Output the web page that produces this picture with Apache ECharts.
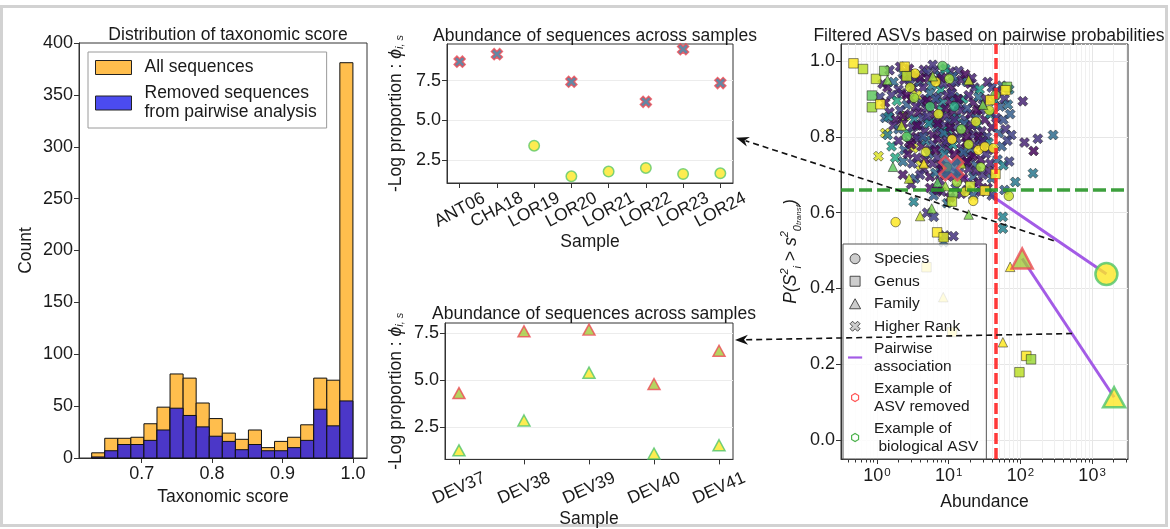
<!DOCTYPE html>
<html><head><meta charset="utf-8">
<script src="https://cdn.jsdelivr.net/npm/echarts@6/dist/echarts.min.js"></script>
<style>html,body{margin:0;padding:0;background:#fff}#c{width:1170px;height:529px}</style>
</head><body><div id="c"></div>
<script>
// ---------------- Histogram (left) ----------------
const binStart = 0.629;
const binWidth = 0.01855;
const allCounts     = [5,19,19,20,33,49,81,77,53,38,24,18,27,10,16,20,32,77,75,381];
const removedCounts = [1,7,13,13,17,27,48,41,30,21,16,8,13,7,7,10,17,47,31,55];
const histTicks = [0.7,0.8,0.9,1.0];

// ---------------- Top middle ----------------
const samplesA = ['ANT06','CHA18','LOR19','LOR20','LOR21','LOR22','LOR23','LOR24'];
const removedA = [8.69,9.16,null,7.42,null,6.16,9.47,7.34];
const bioA     = [null,null,3.40,1.47,1.77,2.00,1.62,1.66];
const ticksA   = [2.5,5.0,7.5];

// ---------------- Bottom middle ----------------
const samplesB = ['DEV37','DEV38','DEV39','DEV40','DEV41'];
const removedB = [4.31,7.58,7.67,4.79,6.55];
const bioB     = [1.28,2.86,5.39,1.11,1.55];
const ticksB   = [2.5,5.0,7.5];

// ---------------- Right scatter: [abundance, probability, colour value] ----------------
const higherRank = [
[1.5,0.976,0.15],[2.1,0.985,0.1],[2.3,0.968,0.3],[2.8,0.98,0.05],[3.4,0.965,0.45],[4.5,0.977,0.1],[5.0,0.97,0.2],[6.5,0.975,0.15],[7.5,0.962,0.3],[10.6,0.972,0.1],[13.8,0.974,0.15],[9,0.98,0.55],
[1.2,0.94,0.1],[1.4,0.93,0.05],[1.7,0.945,0.35],[2.0,0.925,0.15],[2.4,0.95,0.1],[2.9,0.94,0.2],[3.2,0.93,0.05],[3.9,0.945,0.3],[4.4,0.93,0.1],[5.2,0.955,0.05],[5.8,0.935,0.4],[6.8,0.95,0.1],[7.8,0.925,0.55],[8.5,0.94,0.15],[11,0.93,0.05],[12.5,0.945,0.2],[15,0.95,0.1],[18,0.945,0.3],[20,0.94,0.05],[23,0.93,0.15],[27,0.925,0.55],[35,0.945,0.1],[40,0.93,0.2],[55,0.935,0.3],[70,0.925,0.4],[48,0.92,0.1],
[1.1,0.905,0.2],[1.3,0.89,0.05],[1.6,0.91,0.15],[1.9,0.895,0.6],[2.2,0.915,0.1],[2.6,0.885,0.3],[3.0,0.9,0.05],[3.6,0.91,0.95],[4.1,0.89,0.2],[4.7,0.9,0.1],[5.5,0.915,0.35],[6.2,0.885,0.05],[7.1,0.905,0.2],[8.2,0.89,0.45],[9.5,0.91,0.1],[10.5,0.895,0.05],[12,0.905,0.3],[14,0.885,0.15],[16,0.9,0.55],[19,0.91,0.1],[22,0.89,0.05],[26,0.905,0.35],[30,0.885,0.2],[33,0.9,0.1],[44,0.895,0.45],[52,0.88,0.3],[60,0.9,0.15],[67,0.885,0.35],[108,0.894,0.1],
[1.3,0.85,0.3],[1.5,0.865,0.1],[1.8,0.845,0.05],[2.1,0.87,0.2],[2.5,0.855,0.85],[2.9,0.86,0.1],[3.3,0.845,0.45],[3.8,0.865,0.05],[4.3,0.85,0.2],[4.9,0.875,0.1],[5.6,0.84,0.3],[6.4,0.86,0.05],[7.3,0.845,0.15],[8.0,0.87,0.6],[9.2,0.855,0.1],[10.2,0.84,0.25],[11.5,0.865,0.05],[13,0.85,0.4],[15,0.87,0.1],[17,0.845,0.2],[20,0.86,0.05],[24,0.85,0.3],[28,0.87,0.15],[32,0.845,0.05],[38,0.86,0.5],[46,0.85,0.1],[58,0.845,0.25],[72,0.86,0.3],[1.45,0.853,0.45],
[1.3,0.81,0.95],[1.41,0.805,0.4],[1.7,0.83,0.1],[2.0,0.82,0.3],[2.3,0.835,0.05],[2.7,0.81,0.6],[3.1,0.825,0.15],[3.5,0.8,0.05],[4.0,0.83,0.2],[4.6,0.815,0.1],[5.3,0.835,0.45],[6.0,0.805,0.05],[6.8,0.825,0.3],[7.7,0.81,0.1],[8.8,0.83,0.15],[9.8,0.815,0.55],[11,0.8,0.05],[12.5,0.825,0.2],[14.5,0.81,0.1],[16.5,0.835,0.3],[19,0.82,0.05],[22,0.805,0.15],[25,0.83,0.45],[29,0.815,0.1],[34,0.8,0.2],[40,0.825,0.05],[50,0.81,0.3],[62,0.82,0.15],[75,0.805,0.2],[114,0.785,0.1],[175,0.795,0.15],[286,0.805,0.35],
[1.6,0.775,0.55],[2.0,0.79,0.1],[2.4,0.765,0.3],[2.8,0.785,0.05],[3.2,0.77,0.95],[3.7,0.795,0.15],[4.2,0.775,0.05],[4.8,0.79,0.4],[5.4,0.765,0.1],[6.1,0.78,0.2],[7.0,0.795,0.05],[7.9,0.77,0.3],[8.9,0.785,0.1],[10,0.765,0.05],[11.5,0.78,0.5],[13,0.795,0.15],[15,0.77,0.1],[17.5,0.785,0.05],[20,0.765,0.3],[23,0.78,0.1],[27,0.79,0.2],[31,0.77,0.05],[36,0.785,0.45],[42,0.765,0.1],[55,0.775,0.3],[66,0.79,0.2],[153,0.763,0.02],
[1.05,0.749,0.95],[1.8,0.745,0.6],[2.3,0.735,0.35],[2.7,0.755,0.05],[3.1,0.73,0.2],[3.6,0.745,0.1],[4.1,0.725,0.95],[4.7,0.74,0.05],[5.3,0.755,0.3],[6.0,0.73,0.1],[6.9,0.745,0.15],[7.8,0.725,0.05],[8.7,0.755,0.4],[13,0.735,0.1],[15,0.75,0.05],[17.5,0.73,0.2],[20,0.745,0.1],[24,0.725,0.3],[28,0.74,0.05],[33,0.755,0.15],[38,0.73,0.1],[48,0.74,0.3],[58,0.725,0.45],[70,0.735,0.2],
[2.3,0.7,0.05],[3.4,0.69,0.3],[4.5,0.715,0.1],[5.5,0.695,0.05],[6.5,0.705,0.35],[7.5,0.685,0.1],[9,0.7,0.05],[14,0.705,0.2],[16,0.69,0.05],[19,0.715,0.1],[22,0.695,0.3],[26,0.68,0.05],[30,0.7,0.15],[36,0.71,0.1],[40,0.69,0.3],[150,0.704,0.4],[85,0.681,0.4],[3.0,0.675,0.1],
[3.25,0.629,0.45],[5.5,0.665,0.05],[6.2,0.645,0.3],[8,0.655,0.1],[9.5,0.625,0.35],[10.5,0.64,0.05],[12.5,0.665,0.2],[15,0.65,0.1],[18,0.66,0.05],[22,0.645,0.3],[28,0.655,0.1],[35,0.665,0.05],[40,0.645,0.2],[60,0.66,0.3],[5,0.6,0.15],
[6.2,0.589,0.2],[8.5,0.522,0.35],[8.8,0.54,0.15],[11.7,0.538,0.15],[57,0.589,0.45],[57,0.558,0.45],
[3.0,0.96,0.1],[4.0,0.955,0.02],[6.0,0.99,0.15],[8.0,0.955,0.05],[11.5,0.96,0.3],[17,0.965,0.02],[21,0.955,0.1],[2.6,0.91,0.02],[3.5,0.88,0.1],[5.0,0.895,0.02],[6.6,0.9,0.25],[9,0.875,0.02],[11,0.915,0.15],[13.5,0.9,0.02],[18,0.875,0.25],[25,0.87,0.02],[2.3,0.855,0.02],[3.6,0.83,0.02],[5.0,0.855,0.15],[7.0,0.835,0.02],[8.5,0.81,0.35],[10.5,0.825,0.02],[12,0.845,0.1],[18,0.8,0.02],[21,0.83,0.1],[26,0.8,0.02],[3.0,0.78,0.02],[4.4,0.8,0.25],[6.5,0.765,0.02],[9.5,0.79,0.15],[12,0.755,0.02],[16,0.76,0.3],[22,0.75,0.02],[30,0.79,0.1],[4.0,0.7,0.15],[8,0.715,0.02],[11.5,0.695,0.1],[18,0.735,0.02],[24,0.71,0.1],[7,0.66,0.02]
];
const species = [
[1.82,0.575,1.0],[22,0.631,1.0],[69,0.644,0.92],[8.2,0.987,0.75],[3.4,0.967,1.0],[6.6,0.945,1.0],[10.2,0.953,0.85],[3.3,0.903,0.85],[11.1,0.793,1.0],[26,0.765,1.0],[32,0.774,1.0],[42,0.77,1.0],[28,0.72,0.85],[5.5,0.88,0.7],[7.2,0.86,0.95],[15,0.82,0.8],[19,0.78,0.9],[4.8,0.76,0.95],[9.5,0.72,0.9],[2.6,0.8,0.75],[13,0.68,0.85],[17,0.655,0.95],[37,0.87,0.9],[45,0.91,0.8],[2.9,0.93,0.92],[12,0.88,0.6],[24,0.84,0.95]
];
const genus = [
[0.47,0.994,1.0],[0.64,0.979,0.9],[0.97,0.953,0.92],[1.26,0.974,0.8],[0.85,0.909,0.75],[0.85,0.878,0.85],[1.11,0.886,1.0],[2.43,0.985,1.0],[2.6,0.96,0.9],[6.9,0.548,1.0],[8.5,0.535,0.95],[11.5,0.651,0.8],[11.1,0.629,0.9],[65,0.932,0.8],[62,0.923,1.0],[38,0.897,1.0],[45,0.702,1.0],[32,0.658,1.0],[121,0.222,1.0],[141,0.213,0.85],[97,0.179,0.9],[4.9,0.456,1.0],[11.2,0.285,1.0],[20,0.67,0.92]
];
const family = [
[72,0.457,1.0],[57,0.258,1.0],[4.0,0.591,0.92],[5.8,0.611,0.8],[19,0.595,0.8],[1.67,0.721,0.75],[4.5,0.73,1.0],[1.4,0.95,0.8],[6,0.96,0.85],[19,0.95,0.92],[2.2,0.83,0.9],[30,0.885,0.8],[9,0.67,0.85],[15,0.73,0.9],[7,0.68,0.75],[2.8,0.69,0.9],[8.4,0.377,1.0]
];
const removedExample = [[10.9,0.717,'X'],[106,0.479,'T']];
const bioExample     = [[1585,0.438,'C'],[2029,0.113,'T']];
const pairA = [[10.9,0.717],[1585,0.438]];
const pairB = [[106,0.479],[2029,0.113]];
const abundanceThreshold = 45.3;
const probThreshold = 0.664;
const probTicks = [0,0.2,0.4,0.6,0.8,1.0];
const logMajor = [1,10,100,1000];
const logMinor = [0.4,0.5,0.6,0.7,0.8,0.9,2,3,4,5,6,7,8,9,20,30,40,50,60,70,80,90,200,300,400,500,600,700,800,900,2000,3000];
// arrows (from right-panel data point to middle-panel right edge)
const arrow1 = {from:[292,0.526], to:[7.34,3.9]};
const arrow2 = {from:[527,0.281], to:[4.215,7.12]};

// ---------------- styling ----------------
const FF = 'Liberation Sans, Arial, Helvetica, sans-serif';
const TXT = '#1a1a1a';
const AX = '#333';
const X_PATH = 'path://M0,2.5 L2.5,0 L5,2.5 L7.5,0 L10,2.5 L7.5,5 L10,7.5 L7.5,10 L5,7.5 L2.5,10 L0,7.5 L2.5,5 Z';
const HEX = 'path://M-5.6,-5.6 M0,-4.5 L3.9,-2.25 L3.9,2.25 L0,4.5 L-3.9,2.25 L-3.9,-2.25 Z M5.6,5.6';
const viridis = ['#440154','#482878','#3e4989','#31688e','#26828e','#1f9e89','#35b779','#6ece58','#b5de2b','#fde725'];

const histData = (counts) => counts.map((c, i) => [binStart + i*binWidth, binStart + (i+1)*binWidth, c]);
const renderBar = (params, api) => {
  const p0 = api.coord([api.value(0), api.value(2)]);
  const p1 = api.coord([api.value(1), 0]);
  return {type:'rect', shape:{x:p0[0], y:p0[1], width:p1[0]-p0[0], height:p1[1]-p0[1]},
          style: api.style({stroke:'#111', lineWidth:1})};
};

const tickStyle = {show:true, inside:false, length:5, lineStyle:{color:AX, width:1}};
const labelStyle = {fontSize:18, color:TXT, fontFamily:FF};
const nameStyle = {fontSize:17.5, color:TXT, fontFamily:FF};
const catLabel = (names, idx, rot, margin) => ({
  ...labelStyle, fontSize:17.5, rotate:rot, align:'center', verticalAlign:'middle', margin:margin,
  hideOverlap:false, customValues: idx, formatter: v => names[Math.round(v)]
});
const idxA = samplesA.map((n,i)=>i);
const idxAEven = idxA.filter(i => i % 2 === 0);
const idxAOdd  = idxA.filter(i => i % 2 === 1);
const idxB = samplesB.map((n,i)=>i);
const phiName = '-Log proportion : {phi|ϕ}{sub|i, s}';
const phiRich = {phi:{fontSize:17.5, fontStyle:'italic', fontFamily:FF, color:TXT}, sub:{fontSize:11, fontStyle:'italic', verticalAlign:'bottom', fontFamily:FF, color:TXT}};
const noZero = {onZero:false, lineStyle:{color:AX}};

const chart = echarts.init(document.getElementById('c'), null, {renderer:'canvas'});
const option = {
  animation:false,
  backgroundColor:'#fff',
  title:[
    {text:'Distribution of taxonomic score', left:223, top:21, textAlign:'center', textStyle:{...nameStyle, fontWeight:'normal'}},
    {text:'Abundance of sequences across samples', left:590, top:22, textAlign:'center', textStyle:{...nameStyle, fontWeight:'normal'}},
    {text:'Abundance of sequences across samples', left:589, top:300, textAlign:'center', textStyle:{...nameStyle, fontWeight:'normal'}},
    {text:'Filtered ASVs based on pairwise probabilities', left:984, top:22, textAlign:'center', textStyle:{...nameStyle, fontWeight:'normal'}}
  ],
  grid:[
    {left:79, top:43, width:288, height:415, show:true, borderColor:AX, borderWidth:1, backgroundColor:'transparent'},
    {left:447, top:44, width:286, height:139, show:true, borderColor:AX, borderWidth:1, backgroundColor:'transparent'},
    {left:445, top:323, width:288, height:140, show:true, borderColor:AX, borderWidth:1, backgroundColor:'transparent'},
    {left:841, top:44, width:287, height:415, show:true, borderColor:AX, borderWidth:1, backgroundColor:'transparent'}
  ],
  xAxis:[
    {gridIndex:0, type:'value', min:0.611, max:1.02,
     axisLine:noZero, axisTick:{...tickStyle, customValues:histTicks},
     axisLabel:{...labelStyle, margin:7, customValues:histTicks, formatter:v=>v.toFixed(1)},
     splitLine:{show:false}, name:'Taxonomic score', nameLocation:'middle', nameGap:30, nameTextStyle:nameStyle},
    {gridIndex:1, type:'value', min:-0.34, max:7.34,
     axisLine:noZero, axisTick:{...tickStyle, customValues:idxA},
     axisLabel:catLabel(samplesA, idxAEven, 28, 27), splitLine:{show:false},
     name:'Sample', nameLocation:'middle', nameGap:49, nameTextStyle:nameStyle},
    {gridIndex:2, type:'value', min:-0.215, max:4.215,
     axisLine:noZero, axisTick:{...tickStyle, customValues:idxB},
     axisLabel:catLabel(samplesB, idxB, 24, 29), splitLine:{show:false},
     name:'Sample', nameLocation:'middle', nameGap:50, nameTextStyle:nameStyle},
    {gridIndex:3, type:'log', logBase:10, min:0.315, max:3170,
     axisLine:noZero, axisTick:{...tickStyle, length:5, customValues:logMajor},
     axisLabel:{...labelStyle, margin:8, customValues:logMajor,
       formatter:v=>'10{sup|'+Math.round(Math.log10(v))+'}',
       rich:{sup:{fontSize:11.5, verticalAlign:'top', color:TXT, fontFamily:FF, padding:[0,0,0,1]}}},
     splitLine:{show:true, lineStyle:{color:'#e6e6e6', width:1}},
     name:'Abundance', nameLocation:'middle', nameGap:34, nameTextStyle:nameStyle},
    {gridIndex:3, type:'log', logBase:10, min:0.315, max:3170, position:'bottom',
     axisLine:{show:false, onZero:false}, axisTick:{...tickStyle, length:3.5, customValues:logMinor},
     axisLabel:{show:false, customValues:logMinor},
     splitLine:{show:true, lineStyle:{color:'#f0f0f0', width:1}}},
    {gridIndex:1, type:'value', min:-0.34, max:7.34, position:'bottom',
     axisLine:{show:false, onZero:false}, axisTick:{show:false},
     axisLabel:catLabel(samplesA, idxAOdd, 28, 27), splitLine:{show:false}}
  ],
  yAxis:[
    {gridIndex:0, type:'value', min:0, max:400, interval:50,
     axisLine:{show:true, onZero:false, lineStyle:{color:AX}}, axisTick:tickStyle,
     axisLabel:{...labelStyle, margin:6}, splitLine:{show:false},
     name:'Count', nameLocation:'middle', nameGap:44, nameTextStyle:nameStyle},
    {gridIndex:1, type:'value', min:1.05, max:9.8,
     axisLine:{show:true, onZero:false, lineStyle:{color:AX}}, axisTick:{...tickStyle, customValues:ticksA},
     axisLabel:{...labelStyle, margin:6, customValues:ticksA, formatter:v=>v.toFixed(1)},
     splitLine:{show:true, lineStyle:{color:'#ececec'}},
     name:phiName, nameLocation:'middle', nameGap:42, nameTextStyle:{...nameStyle, rich:phiRich}},
    {gridIndex:2, type:'value', min:0.8, max:8.02,
     axisLine:{show:true, onZero:false, lineStyle:{color:AX}}, axisTick:{...tickStyle, customValues:ticksB},
     axisLabel:{...labelStyle, margin:6, customValues:ticksB, formatter:v=>v.toFixed(1)},
     splitLine:{show:true, lineStyle:{color:'#ececec'}},
     name:phiName, nameLocation:'middle', nameGap:40, nameTextStyle:{...nameStyle, rich:phiRich}},
    {gridIndex:3, type:'value', min:-0.05, max:1.045,
     axisLine:{show:true, onZero:false, lineStyle:{color:AX}}, axisTick:{...tickStyle, customValues:probTicks},
     axisLabel:{...labelStyle, margin:6, customValues:probTicks, formatter:v=>v.toFixed(1)},
     splitLine:{show:true, lineStyle:{color:'#e6e6e6'}},
     name:'{it|P}(S{sup|2}{sub|i} > s{sup|2}{sub|0}{sub2|transf})', nameLocation:'middle', nameGap:38,
     nameTextStyle:{...nameStyle, fontStyle:'italic', lineHeight:24, rich:{
       it:{fontSize:17.5, fontStyle:'italic', fontFamily:FF, color:TXT},
       sup:{fontSize:11, fontStyle:'italic', verticalAlign:'top', fontFamily:FF, color:TXT},
       sub:{fontSize:11, fontStyle:'italic', verticalAlign:'bottom', fontFamily:FF, color:TXT},
       sub2:{fontSize:8, fontStyle:'italic', verticalAlign:'bottom', fontFamily:FF, color:TXT}}}}
  ],
  visualMap:[{type:'continuous', show:false, min:0, max:1, dimension:2, seriesIndex:[8,9,10,11], inRange:{color:viridis}}],
  legend:[
    {orient:'vertical', left:88, top:52, itemWidth:36, itemHeight:14, itemGap:7, selectedMode:false,
     padding:[6,10,6,7], borderColor:'#9a9a9a', borderWidth:1, backgroundColor:'#fff',
     textStyle:{fontSize:17.5, fontFamily:FF, color:TXT, lineHeight:19, padding:[0,0,0,8]},
     data:[{name:'All sequences', icon:'rect', itemStyle:{color:'#FFBE4D', borderColor:'#222', borderWidth:1}},
           {name:'Removed sequences\nfrom pairwise analysis', icon:'rect', itemStyle:{color:'#4B4BF0', borderColor:'#222', borderWidth:1}}]},
    {orient:'vertical', left:843, top:244, itemWidth:20, itemHeight:10, itemGap:5, selectedMode:false,
     padding:[6,8,4,5], borderColor:'#555', borderWidth:1, backgroundColor:'rgba(255,255,255,0.82)',
     textStyle:{fontSize:15.5, fontFamily:FF, color:TXT, lineHeight:17.5, padding:[0,0,0,4]},
     data:[
       {name:'Species', icon:'circle', itemStyle:{color:'#c4c4c4', borderColor:'#333', borderWidth:1}},
       {name:'Genus', icon:'path://M0,0 L10,0 L10,10 L0,10 Z', itemStyle:{color:'#c4c4c4', borderColor:'#333', borderWidth:1}},
       {name:'Family', icon:'path://M5,0 L10,9 L0,9 Z', itemStyle:{color:'#c4c4c4', borderColor:'#333', borderWidth:1}},
       {name:'Higher Rank', icon:X_PATH, itemStyle:{color:'#c4c4c4', borderColor:'#333', borderWidth:1}},
       {name:'Pairwise\nassociation', icon:'path://M0,-6 M0,-1.3 L17,-1.3 L17,1.3 L0,1.3 Z M0,6',
        itemStyle:{color:'#A35BE6', borderColor:'#A35BE6', borderWidth:0}, lineStyle:{color:'#A35BE6', width:2.5}},
       {name:'Example of\nASV removed', icon:HEX, itemStyle:{color:'rgba(0,0,0,0)', borderColor:'#ff2a2a', borderWidth:1.2}},
       {name:'Example of\n biological ASV', icon:HEX, itemStyle:{color:'rgba(0,0,0,0)', borderColor:'#1e9e1e', borderWidth:1.2}}
     ]}
  ],
  series:[
    {name:'All sequences', type:'custom', xAxisIndex:0, yAxisIndex:0, renderItem:renderBar, encode:{x:[0,1], y:2},
     itemStyle:{color:'#FFBE4D'}, data:histData(allCounts)},
    {name:'Removed sequences\nfrom pairwise analysis', type:'custom', xAxisIndex:0, yAxisIndex:0, renderItem:renderBar, encode:{x:[0,1], y:2},
     itemStyle:{color:'#4B37C8'}, data:histData(removedCounts)},
    {name:'topRemoved', type:'scatter', xAxisIndex:1, yAxisIndex:1, symbol:X_PATH, symbolSize:11,
     itemStyle:{color:'#3C6A8E', borderColor:'#EC4B55', borderWidth:1.5},
     data:removedA.map((v,i)=>[i,v]).filter(d=>d[1]!==null)},
    {name:'topBio', type:'scatter', xAxisIndex:1, yAxisIndex:1, symbol:'circle', symbolSize:10.5,
     itemStyle:{color:'#FDE725', borderColor:'#5CC86A', borderWidth:1.5},
     data:bioA.map((v,i)=>[i,v]).filter(d=>d[1]!==null)},
    {name:'bottomRemoved', type:'scatter', xAxisIndex:2, yAxisIndex:2, symbol:'triangle', symbolSize:[12,11],
     itemStyle:{color:'#A3C93A', borderColor:'#EC4B55', borderWidth:1.5},
     data:removedB.map((v,i)=>[i,v])},
    {name:'bottomBio', type:'scatter', xAxisIndex:2, yAxisIndex:2, symbol:'triangle', symbolSize:[12,11],
     itemStyle:{color:'#FDE725', borderColor:'#4FC46A', borderWidth:1.5},
     data:bioB.map((v,i)=>[i,v])},
    {name:'Pairwise\nassociation', type:'line', xAxisIndex:3, yAxisIndex:3, symbol:'none', z:1,
     itemStyle:{color:'#A35BE6'}, lineStyle:{color:'#A35BE6', width:3}, data:pairA},
    {name:'Pairwise\nassociation', type:'line', xAxisIndex:3, yAxisIndex:3, symbol:'none', z:1,
     itemStyle:{color:'#A35BE6'}, lineStyle:{color:'#A35BE6', width:3}, data:pairB},
    {name:'Higher Rank', type:'scatter', xAxisIndex:3, yAxisIndex:3, symbol:X_PATH, symbolSize:10,
     itemStyle:{borderColor:'#1a1a1a', borderWidth:0.6, opacity:0.85}, data:higherRank,
     markLine:{silent:true, symbol:'none', label:{show:false}, z:6, animation:false,
       data:[{xAxis:abundanceThreshold, lineStyle:{color:'rgba(255,35,35,0.9)', width:3.5, type:[11,4]}},
             {yAxis:probThreshold, lineStyle:{color:'rgba(40,150,40,0.9)', width:3.5, type:[13,5]}}]}},
    {name:'Species', type:'scatter', xAxisIndex:3, yAxisIndex:3, symbol:'circle', symbolSize:9.5,
     itemStyle:{borderColor:'#1a1a1a', borderWidth:0.6, opacity:0.85}, data:species},
    {name:'Genus', type:'scatter', xAxisIndex:3, yAxisIndex:3, symbol:'rect', symbolSize:9.5,
     itemStyle:{borderColor:'#1a1a1a', borderWidth:0.6, opacity:0.85}, data:genus},
    {name:'Family', type:'scatter', xAxisIndex:3, yAxisIndex:3, symbol:'triangle', symbolSize:9.5,
     itemStyle:{borderColor:'#1a1a1a', borderWidth:0.6, opacity:0.85}, data:family},
    {name:'Example of\nASV removed', type:'scatter', xAxisIndex:3, yAxisIndex:3, z:4,
     symbol:(v)=> v[2]==='X' ? X_PATH : 'triangle', symbolSize:(v)=> v[2]==='X' ? 24 : [21,20],
     itemStyle:{borderColor:'#EC4B55', borderWidth:2.5},
     data:removedExample.map(d=>({value:d, itemStyle:{color: d[2]==='X' ? '#3C6A8E' : '#A3C93A'}}))},
    {name:'Example of\n biological ASV', type:'scatter', xAxisIndex:3, yAxisIndex:3, z:4,
     symbol:(v)=> v[2]==='C' ? 'circle' : 'triangle', symbolSize:(v)=> v[2]==='C' ? 22 : [22,20],
     itemStyle:{color:'#FDE725', borderColor:'#4FC46A', borderWidth:2.5},
     data:bioExample}
  ]
};
chart.setOption(option);

function arrowGraphic(p0, p1) {
  const dx = p1[0]-p0[0], dy = p1[1]-p0[1];
  const L = Math.hypot(dx, dy), ux = dx/L, uy = dy/L;
  const hl = 13, hw = 5;
  const bx = p1[0]-ux*hl, by = p1[1]-uy*hl;
  return [
    {type:'line', z:100, silent:true, shape:{x1:p0[0], y1:p0[1], x2:bx+ux*3, y2:by+uy*3},
     style:{stroke:'#111', lineWidth:1.6, lineDash:[6,4]}},
    {type:'polygon', z:100, silent:true,
     shape:{points:[[p1[0],p1[1]],[bx-uy*hw, by+ux*hw],[bx+ux*4, by+uy*4],[bx+uy*hw, by-ux*hw]]},
     style:{fill:'#111'}}
  ];
}
const a1s = chart.convertToPixel({gridIndex:3}, arrow1.from);
const a1e = chart.convertToPixel({gridIndex:1}, arrow1.to);
const a2s = chart.convertToPixel({gridIndex:3}, arrow2.from);
const a2e = chart.convertToPixel({gridIndex:2}, arrow2.to);
a1e[0] += 3; a2e[0] += 2;
chart.setOption({graphic:[
  {type:'rect', silent:true, z:0, shape:{x:1.5, y:6.5, width:1165, height:519},
   style:{fill:'none', stroke:'#d2d2d2', lineWidth:3}},
  ...arrowGraphic(a1s, a1e),
  ...arrowGraphic(a2s, a2e)
]});
</script>
</body></html>
